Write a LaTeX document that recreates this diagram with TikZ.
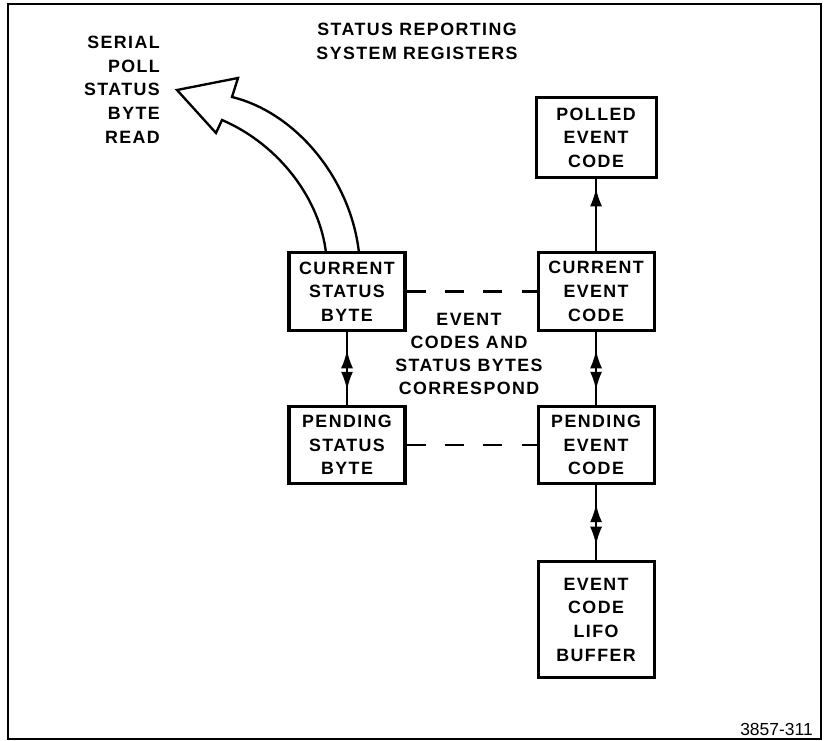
\documentclass[tikz,border=0pt]{standalone}
\usepackage{fontspec}
\newfontfamily\regfont[LetterSpace=8]{Liberation Sans}
\newfontfamily\numfont{Liberation Sans}
\usepackage{tikz}
\usetikzlibrary{arrows.meta,positioning,calc,decorations.markings}
\tikzset{
  lbl/.style={inner sep=0pt,align=center,font=\regfont\bfseries\fontsize{15.2}{20.2}\selectfont},
  regbox/.style={lbl,draw,line width=2.6pt,minimum width=3.48cm,minimum height=2.32cm},
  link/.style={line width=1.9pt},
  corrlink/.style={link,dash pattern=on 0.57cm off 0.58cm},
  updown/.style={link,postaction={decorate,decoration={markings,
      mark=at position 0.25 with {\arrowreversed{Latex[length=0.55cm,width=0.36cm]}},
      mark=at position 0.8 with {\arrow{Latex[length=0.55cm,width=0.36cm]}}}}},
  uponly/.style={link,postaction={decorate,decoration={markings,
      mark=at position 0.88 with {\arrow{Latex[length=0.55cm,width=0.36cm]}}}}}
}

\begin{document}
\begin{tikzpicture}[x=0.03cm,y=-0.03cm]
  \useasboundingbox (0,0) rectangle (826,741);
  % 边框
  \draw[line width=1.7pt] (8,4) rectangle (821,739);
  % 标题
  \node[lbl] (title) at (417,41.5) {STATUS REPORTING\\SYSTEM REGISTERS};
  \node[lbl,align=right,anchor=east] (serial) at (160,89.5) {SERIAL\\POLL\\STATUS\\BYTE\\READ};
  % 大箭头
  \filldraw[fill=white,line width=2pt,line join=miter]
    (326,253) .. controls (320,200) and (280,145) .. (222,120) -- (216,133) -- (177,90)
    -- (238,78) -- (232,97) .. controls (297,113) and (351,180) .. (359,253);
  % 寄存器
  \node[regbox] (cursb) at (347,291.5) {CURRENT\\STATUS\\BYTE};
  \node[regbox,below=2.19cm of cursb] (pendsb) {PENDING\\STATUS\\BYTE};
  \node[regbox,right=3.9cm of cursb] (curevt) {CURRENT\\EVENT\\CODE};
  \node[regbox,above=2.16cm of curevt,minimum width=3.6cm,minimum height=2.4cm] (polled) {POLLED\\EVENT\\CODE};
  \node[regbox,below=2.19cm of curevt] (pendevt) {PENDING\\EVENT\\CODE};
  \node[regbox,below=2.25cm of pendevt,minimum height=3.48cm] (lifo) {EVENT\\CODE\\LIFO\\BUFFER};
  % 说明
  \node[lbl,font=\regfont\bfseries\fontsize{15.2}{19.5}\selectfont] (corr) at (469,354)
    {EVENT\\CODES AND\\STATUS BYTES\\CORRESPOND};
  % 连线
  \draw[corrlink] (cursb) -- (curevt);
  \draw[corrlink] (pendsb) -- (pendevt);
  \draw[updown] (cursb) -- (pendsb);
  \draw[updown] (curevt) -- (pendevt);
  \draw[updown] (pendevt) -- (lifo);
  \draw[uponly] (curevt) -- (polled);
  % 图号
  \node[anchor=east,inner sep=0pt,font=\numfont\fontsize{14.9}{18}\selectfont] (fignum) at (813,729) {3857-311};
\end{tikzpicture}
\end{document}
